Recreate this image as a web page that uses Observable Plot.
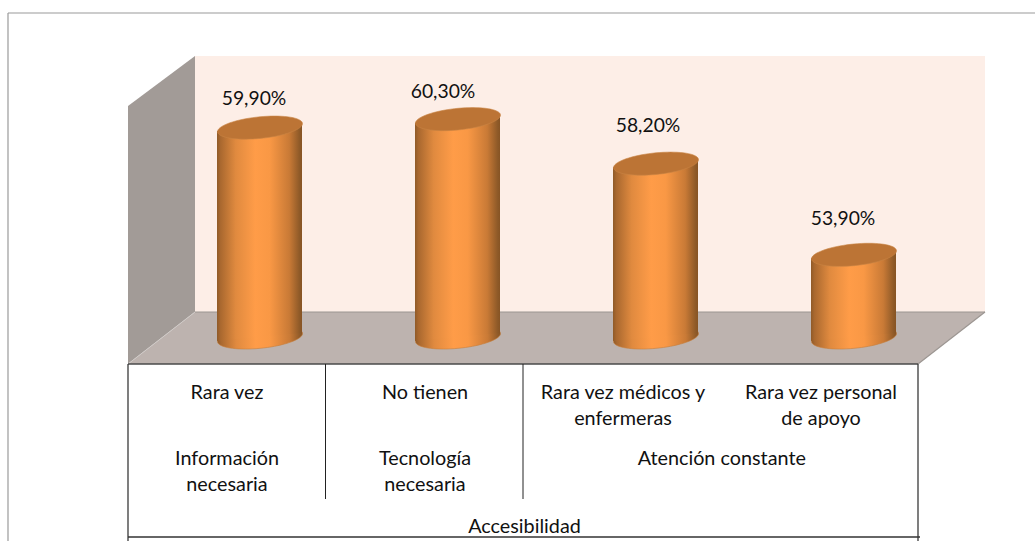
<!DOCTYPE html>
<html lang="es">
<head>
<meta charset="utf-8">
<script src="https://cdn.jsdelivr.net/npm/d3@7"></script>
<script src="https://cdn.jsdelivr.net/npm/@observablehq/plot@0.6"></script>
<style>
html,body{margin:0;padding:0;background:#fff;overflow:hidden}
svg{display:block}
</style>
</head>
<body>
<div id="chart"></div>
<script>
// ---- data ----
const categories = ["Rara vez", "No tienen", "Rara vez médicos y\nenfermeras", "Rara vez personal\nde apoyo"];
const values = [59.9, 60.3, 58.2, 53.9];
const valueLabels = ["59,90%", "60,30%", "58,20%", "53,90%"];
const groupLabels = ["Información\nnecesaria", "Tecnología\nnecesaria"];
const sharedGroupLabel = "Atención constante";
const axisTitle = "Accesibilidad";
const baseValue = 50;

// ---- layout (not data) ----
const W = 1035, H = 541;
const depthX = 67, depthY = 52;     // oblique depth of the 3D box
const labelNudge = [[-6, -29], [-15, -27.5], [-8, -37.5], [-11, -36]];
const font = "Lato, 'Open Sans', sans-serif";

const rows = categories.map((category, i) => ({category, value: values[i], label: valueLabels[i], nudge: labelNudge[i]}));

// A cylinder cap: a slightly tilted ellipse, sized from the dot's r.
const capSymbol = {
  draw(ctx, size) {
    const r = Math.sqrt(size / Math.PI), b = r * 0.255, tilt = 0.094, n = 72;
    for (let i = 0; i < n; ++i) {
      const t = (i / n) * 2 * Math.PI, px = r * Math.cos(t);
      const py = b * Math.sin(t) - tilt * px;
      if (i) ctx.lineTo(px, py); else ctx.moveTo(px, py);
    }
    ctx.closePath();
  }
};

// The 3D box and table lines are drawn from the x band scale and y scale.
function backdrop(index, {x, y}) {
  const left = x.range()[0], right = x.range()[1] - 2;
  const floorFront = y(baseValue) + 27, floorBack = floorFront - depthY;
  const wallTop = 56;
  const g = d3.create("svg:g");
  const defs = g.append("defs");
  const grad = defs.append("linearGradient").attr("id", "cyl").attr("x1", 0).attr("x2", 1).attr("y1", 0).attr("y2", 0);
  [[0, "#8f5a28"], [0.04, "#a9682f"], [0.22, "#e08a3f"], [0.45, "#ff9c48"], [0.62, "#f99845"], [0.85, "#c97a36"], [0.97, "#8f5a28"], [1, "#875424"]]
    .forEach(([o, c]) => grad.append("stop").attr("offset", o).attr("stop-color", c));
  const poly = (pts, fill) => g.append("polygon").attr("points", pts.map(p => p.join(",")).join(" ")).attr("fill", fill);
  poly([[left + depthX, wallTop], [right + depthX, wallTop], [right + depthX, floorBack], [left + depthX, floorBack]], "#fdeee7");
  poly([[left, wallTop + depthY - 2], [left + depthX, wallTop], [left + depthX, floorBack], [left, floorFront]], "#a29b97");
  poly([[left, floorFront], [left + depthX, floorBack], [right + depthX, floorBack], [right, floorFront]], "#bdb3af");
  const line = (x1, y1, x2, y2, stroke, sw) => g.append("line").attr("x1", x1).attr("y1", y1).attr("x2", x2).attr("y2", y2).attr("stroke", stroke).attr("stroke-width", sw);
  line(left + depthX, floorBack, right + depthX, floorBack, "#9c9692", 1.2);
  line(right, floorFront, right + depthX, floorBack, "#9c9692", 1.2);
  line(left, floorFront, left + depthX, floorBack, "#d0cbc8", 1);
  // chart-area border
  line(8, H, 8, 13, "#9a9a9a", 1.2);
  line(8, 13, W, 13, "#9a9a9a", 1.2);
  // table
  const band = (right - left) / 4, bottom = 537;
  line(left, floorFront, right, floorFront, "#4a4a4a", 1.6);
  line(left, floorFront, left, H, "#3a3a3a", 1.3);
  line(right, floorFront, right, H, "#3a3a3a", 1.3);
  line(left + band, floorFront, left + band, 499, "#222", 1);
  line(left + 2 * band, floorFront, left + 2 * band, 499, "#222", 1);
  line(left, bottom, right + 2, bottom, "#333", 1.3);
  return g.node();
}

const barShift = 33;  // bars stand in the middle of the floor's depth
const valueText = {fontFamily: font, fontSize: 19.3, fill: "#111"};
const tableText = {fontFamily: font, fontSize: 19.8, fill: "#111", lineHeight: 1.31, frameAnchor: "top", lineAnchor: "top"};

const plot = Plot.plot({
  width: W,
  height: H,
  marginLeft: 128,
  marginRight: 115,
  marginTop: 0,
  marginBottom: 0,
  style: {background: "#fff", fontFamily: font},
  x: {type: "band", domain: categories, paddingInner: 0.57, paddingOuter: 0.285, align: 0.5, axis: null},
  y: {type: "linear", domain: [baseValue, 60], range: [337, 125], axis: null},
  marks: [
    backdrop,
    // base cap, bars, top cap
    Plot.dot(rows, {x: "category", y: () => baseValue, r: 42.5, symbol: capSymbol, fill: "url(#cyl)", stroke: "#c77f3c", strokeWidth: 0.6, dx: barShift}),
    Plot.barY(rows, {
      x: "category", y1: () => baseValue, y2: "value", fill: "url(#cyl)", dx: barShift,
      render(index, scales, vals, dims, ctx, next) {
        const g = next(index, scales, vals, dims, ctx);
        d3.select(g).selectAll("rect").each(function() {
          const r = d3.select(this);
          const cx = +r.attr("x") + +r.attr("width") / 2;
          r.attr("transform", `translate(${cx},0) skewY(-5.37) translate(${-cx},0)`);
        });
        return g;
      }
    }),
    Plot.dot(rows, {x: "category", y: "value", r: 42.5, symbol: capSymbol, fill: "#bc7435", stroke: "#c98545", strokeWidth: 0.6, dx: barShift}),
    // value labels, each placed as in the source chart
    ...rows.map(d => Plot.text([d], {x: "category", y: "value", text: "label", dx: barShift + d.nudge[0], dy: d.nudge[1], ...valueText})),
    // table text
    Plot.text(rows, {x: "category", text: "category", dy: 380, ...tableText}),
    Plot.text(groupLabels.map((t, i) => ({t, category: categories[i]})), {x: "category", text: "t", dy: 446, ...tableText}),
    Plot.text([sharedGroupLabel], {x: () => categories[2], text: d => d, dy: 446, dx: 98.75, ...tableText}),
    Plot.text([axisTitle], {text: d => d, dy: 514, ...tableText})
  ]
});
document.getElementById("chart").appendChild(plot);
</script>
</body>
</html>
